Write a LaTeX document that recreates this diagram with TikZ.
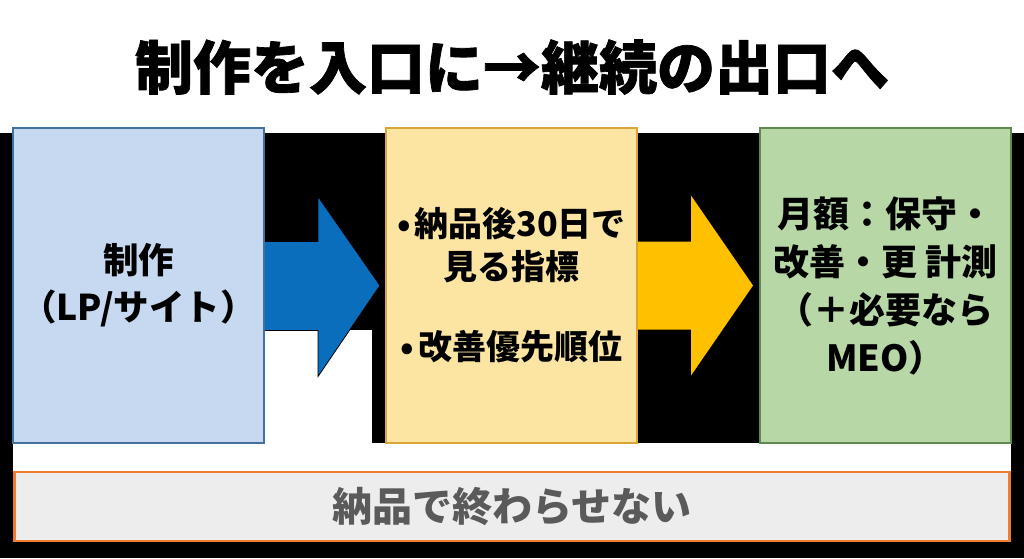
\documentclass[tikz,border=0pt]{standalone}
\usepackage{fontspec}
\newfontfamily\cjk{Noto Sans CJK JP}
\newfontfamily\cjkheavy{Noto Sans CJK JP}[BoldFeatures={FakeBold=1.2}]
\usetikzlibrary{calc}
\definecolor{bluefill}{HTML}{C6D9F1}
\definecolor{blueline}{HTML}{41719C}
\definecolor{yelfill}{HTML}{FCE5A2}
\definecolor{yelline}{HTML}{D9A534}
\definecolor{grnfill}{HTML}{B8D7A6}
\definecolor{grnline}{HTML}{5E8A4E}
\definecolor{barfill}{HTML}{EDEDED}
\definecolor{barline}{HTML}{ED7D31}
\definecolor{arrblue}{HTML}{0B6EBD}
\definecolor{arryel}{HTML}{FFC000}
\definecolor{bartext}{HTML}{5A5A5A}
\tikzset{
  stagebox/.style={draw, line width=1.2pt, minimum width=251pt, minimum height=315pt,
    inner sep=0pt, outer sep=0pt, align=center, text=black},
  bigarrow/.style={line width=0.8pt, line join=miter},
}
\newcommand{\bul}{•\hspace{4pt}}
\begin{document}
\begin{tikzpicture}[x=1pt,y=-1pt]
\useasboundingbox (0,0) rectangle (1024,558);
\fill[white] (0,0) rectangle (1024,558);
% black backdrop with white gaps
\fill[black] (0,133) rectangle (1024,558);
\fill[white] (13,443) rectangle (1011,471);
\fill[white] (264,330) rectangle (372,443);
% title
\node[font=\cjkheavy\bfseries\fontsize{58}{64}\selectfont] (title) at (512,67) {制作を入口に→継続の出口へ};
% boxes
\node[stagebox, fill=bluefill, draw=blueline, font=\cjk\bfseries\fontsize{35.5}{47}\selectfont] (blue) at (138.5,285.5) {制作\\（LP/サイト）};
\node[stagebox, fill=yelfill, draw=yelline, font=\cjk\bfseries\fontsize{34}{43}\selectfont] (yellow) at (511.5,285.5) {\bul 納品後30日で\\見る指標\\[37pt]\bul 改善優先順位};
\node[stagebox, fill=grnfill, draw=grnline, font=\cjk\bfseries\fontsize{36}{48}\selectfont] (green) at (885.5,285.5) {月額：保守・\\改善・更 計測\\（＋必要なら\\MEO）};
% arrows
\draw[bigarrow, fill=arrblue, draw=black]
  ($(blue.east)+(0,-44)$) -- ++(54,0) -- ++(0,-45) -- ($(yellow.west)+(-6,0)$)
  -- ($(blue.east)+(54,91)$) -- ++(0,-46) -- ($(blue.east)+(0,45)$);
\fill[arryel]
  ($(yellow.east)+(0,-44)$) -- ++(54,0) -- ++(0,-46) -- ($(green.west)+(-7,0)$)
  -- ($(yellow.east)+(54,90)$) -- ++(0,-46) -- ($(yellow.east)+(0,44)$) -- cycle;
% redraw box borders over arrow ends
\draw[blueline, line width=1.2pt] (blue.north east) -- (blue.south east);
\draw[yelline, line width=1.2pt] (yellow.north east) -- (yellow.south east);
% bottom bar
\node[draw=barline, fill=barfill, line width=2.5pt, minimum width=995pt, minimum height=69pt,
  inner sep=0pt, text=bartext, font=\cjk\bfseries\fontsize{40}{44}\selectfont] (bar) at (512,506.5) {納品で終わらせない};
\end{tikzpicture}
\end{document}
